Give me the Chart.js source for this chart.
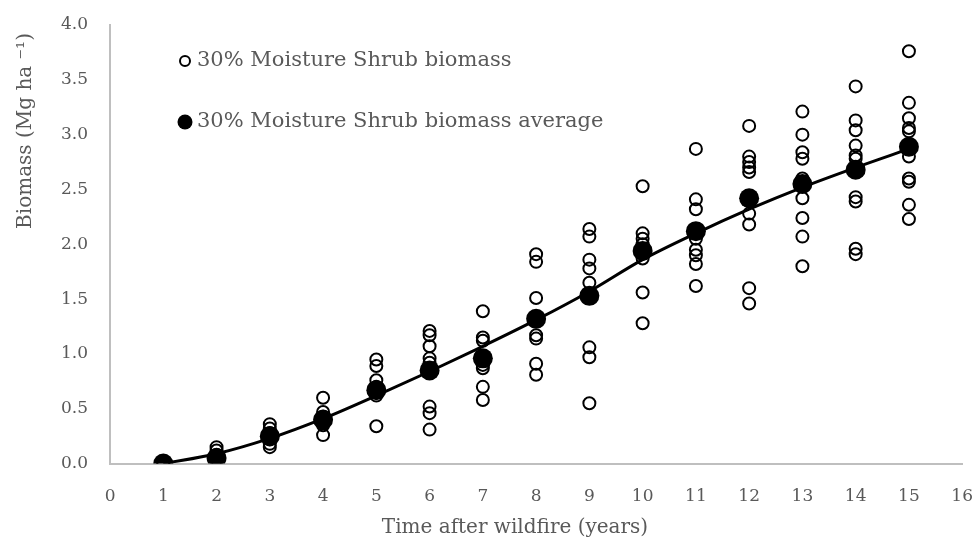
<!DOCTYPE html>
<html>
<head>
<meta charset="utf-8">
<script src="https://cdn.jsdelivr.net/npm/chart.js@4"></script>
<style>
  html, body { margin: 0; padding: 0; background: #fff; }
  #wrap { width: 976px; height: 544px; }
</style>
</head>
<body>
<div id="wrap"><canvas id="biomassChart"></canvas></div>
<script>
// years after wildfire
const years = [1, 2, 3, 4, 5, 6, 7, 8, 9, 10, 11, 12, 13, 14, 15];

// individual plot values per year (Mg ha-1)
const shrubBiomass = [
    [0.0, 0.0],
    [0.15, 0.12, 0.08, 0.05, 0.03],
    [0.36, 0.32, 0.28, 0.22, 0.18, 0.15],
    [0.6, 0.47, 0.43, 0.38, 0.35, 0.26],
    [0.95, 0.89, 0.76, 0.70, 0.62, 0.34],
    [1.21, 1.17, 1.07, 0.96, 0.92, 0.52, 0.46, 0.31],
    [1.39, 1.15, 1.12, 0.9, 0.87, 0.7, 0.58],
    [1.91, 1.84, 1.51, 1.17, 1.14, 0.91, 0.81],
    [2.14, 2.07, 1.86, 1.78, 1.65, 1.06, 0.97, 0.55],
    [2.53, 2.1, 2.05, 2.0, 1.87, 1.56, 1.28],
    [2.87, 2.41, 2.32, 2.05, 1.95, 1.9, 1.82, 1.62],
    [3.08, 2.8, 2.75, 2.7, 2.66, 2.28, 2.18, 1.6, 1.46],
    [3.21, 3.0, 2.84, 2.78, 2.6, 2.42, 2.24, 2.07, 1.8],
    [3.44, 3.13, 3.04, 2.9, 2.81, 2.78, 2.43, 2.39, 1.96, 1.91],
    [3.76, 3.29, 3.15, 3.06, 3.03, 2.8, 2.6, 2.57, 2.36, 2.23]
];

// yearly averages
const averageBiomass = [0, 0.05, 0.25, 0.40, 0.67, 0.85, 0.96, 1.32, 1.53, 1.94, 2.12, 2.42, 2.55, 2.68, 2.89];

// fitted curve, read at each year
const fitCurve = [0, 0.09, 0.23, 0.41, 0.62, 0.84, 1.07, 1.31, 1.57, 1.86, 2.1, 2.32, 2.52, 2.7, 2.87];

const legendLabels = ['30% Moisture Shrub biomass', '30% Moisture Shrub biomass average'];
const xTitle = 'Time after wildfire (years)';
const yTitle = 'Biomass (Mg ha ⁻¹)';

const fontFamily = "'Palatino Linotype', 'Book Antiqua', Palatino, 'DejaVu Serif', serif";
const textColor = '#595959';
const axisColor = '#bfbfbf';

const scatterPoints = [];
shrubBiomass.forEach((vals, i) => {
    vals.forEach(v => scatterPoints.push({ x: years[i], y: v }));
});

// legend inside the plot (top left) and the two axis titles, placed like the original
const annotations = {
    id: 'annotations',
    afterDraw(chart) {
        const ctx = chart.ctx;
        ctx.save();
        ctx.font = '21px ' + fontFamily;
        ctx.textBaseline = 'middle';
        const rows = [61, 122];
        rows.forEach((y, i) => {
            ctx.beginPath();
            if (i === 0) {
                ctx.arc(185, y, 5, 0, Math.PI * 2);
                ctx.lineWidth = 2;
                ctx.strokeStyle = '#000';
                ctx.stroke();
            } else {
                ctx.arc(185, y, 7.5, 0, Math.PI * 2);
                ctx.fillStyle = '#000';
                ctx.fill();
            }
            ctx.fillStyle = textColor;
            ctx.fillText(legendLabels[i], 197, y);
        });

        ctx.font = '20px ' + fontFamily;
        ctx.textAlign = 'center';
        ctx.fillText(xTitle, 515, 528);

        ctx.translate(26, 131);
        ctx.rotate(-Math.PI / 2);
        ctx.fillText(yTitle, 0, 0);
        ctx.restore();
    }
};

new Chart(document.getElementById('biomassChart'), {
    type: 'scatter',
    data: {
        datasets: [{
            label: legendLabels[0],
            data: scatterPoints,
            pointRadius: 6,
            pointBorderWidth: 2,
            pointBorderColor: '#000',
            pointBackgroundColor: 'rgba(0,0,0,0)',
            order: 3
        }, {
            label: 'fit',
            type: 'line',
            data: years.map((x, i) => ({ x: x, y: fitCurve[i] })),
            borderColor: '#000',
            borderWidth: 3,
            pointRadius: 0,
            cubicInterpolationMode: 'monotone',
            fill: false,
            order: 2
        }, {
            label: legendLabels[1],
            data: years.map((x, i) => ({ x: x, y: averageBiomass[i] })),
            pointRadius: 10,
            pointBorderWidth: 0,
            pointBackgroundColor: '#000',
            order: 1
        }]
    },
    options: {
        responsive: true,
        maintainAspectRatio: false,
        animation: false,
        // tick padding also widens the outer margins, so spacing comes from tickLength instead
        layout: { autoPadding: false, padding: { top: 25, right: 0, left: 58, bottom: 34 } },
        plugins: {
            legend: { display: false },
            tooltip: { enabled: false }
        },
        scales: {
            x: {
                type: 'linear',
                min: 0,
                max: 16,
                grid: { display: false, drawTicks: true, tickLength: 20 },
                border: { display: true, color: axisColor, width: 2 },
                ticks: {
                    stepSize: 1,
                    color: textColor,
                    padding: 3,
                    font: { family: fontFamily, size: 17 }
                }
            },
            y: {
                min: 0,
                max: 4,
                grid: { display: false, drawTicks: true, tickLength: 19 },
                border: { display: true, color: axisColor, width: 2 },
                ticks: {
                    stepSize: 0.5,
                    color: textColor,
                    padding: 3,
                    font: { family: fontFamily, size: 17 },
                    callback: v => v.toFixed(1)
                }
            }
        }
    },
    plugins: [annotations]
});
</script>
</body>
</html>
